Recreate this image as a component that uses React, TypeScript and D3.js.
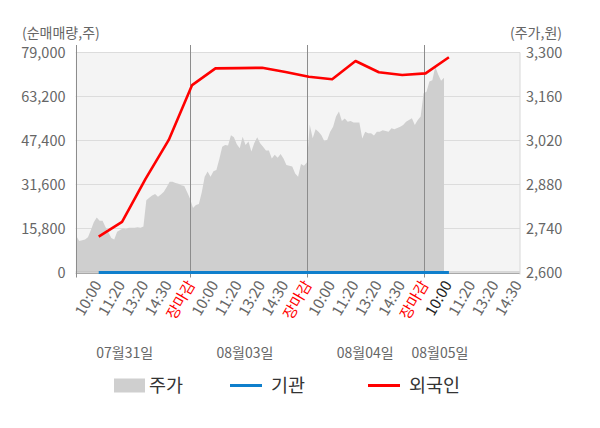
//@ts-nocheck
import * as d3 from "d3";
import { useEffect, useRef } from "react";

// 주가 (원), 8 samples per x slot, first sample at slot 1/8
const priceData = [
  2716, 2700, 2703, 2705, 2712, 2735, 2760, 2775, 2765, 2765, 2745, 2728, 2710, 2705, 2730, 2735, 2740, 2738, 2742, 2742,
  2742, 2744, 2742, 2746, 2830, 2838, 2845, 2850, 2841, 2848, 2857, 2872, 2889, 2889, 2885, 2882, 2878, 2875, 2855, 2835,
  2805, 2815, 2818, 2855, 2905, 2921, 2905, 2922, 2926, 2960, 3000, 3006, 3004, 3037, 3030, 3008, 2995, 3032, 3006, 3017,
  2985, 3012, 3030, 3011, 3000, 2988, 2988, 2963, 2975, 2965, 2977, 2963, 2942, 2940, 2937, 2915, 2905, 2945, 2940, 2950,
  3070, 3027, 3056, 3048, 3037, 3018, 3022, 3048, 3064, 3096, 3112, 3082, 3090, 3080, 3082, 3077, 3077, 3077, 3026, 3048,
  3043, 3043, 3036, 3048, 3048, 3053, 3050, 3048, 3059, 3056, 3060, 3064, 3069, 3080, 3085, 3091, 3069, 3085, 3096, 3170,
  3175, 3208, 3212, 3255, 3230, 3210, 3220
];
// 외국인 순매매량 (주), one per x slot starting at slot 1
const foreignData = [12900, 18200, 33500, 47600, 67300, 73300, 73400, 73500, 72000, 70300, 69400, 75950, 71900, 70900, 71500, 77300];
// 기관 순매매량 (주)
const institutionData = [0, 0, 0, 0, 0, 0, 0, 0, 0, 0, 0, 0, 0, 0, 0, 0];

const dayLabels = ["07월31일", "08월03일", "08월04일", "08월05일"];
const timeLabels = ["10:00", "11:20", "13:20", "14:30", "장마감"];
const leftTicks = [0, 15800, 31600, 47400, 63200, 79000];
const rightTicks = [2600, 2740, 2880, 3020, 3160, 3300];

const FONT = '"Noto Sans CJK KR", "Noto Sans", sans-serif';

const StockChart = () => {
  const chartRef = useRef(null);

  useEffect(() => {
    document.body.style.margin = "0";
    chartRef.current.innerHTML = "";
    drawChart(chartRef.current);
  }, []);

  return (
    <div>
      <svg ref={chartRef} width={600} height={428} style={{ display: "block" }}></svg>
    </div>
  );
};

const drawChart = (ref: any) => {
  const left = 75.7, right = 520, top = 52.5, bottom = 272.5;
  const svg = d3.select(ref).style("font-family", FONT);

  // x works in "slots": one slot between time labels, 5 slots per day
  const x = d3.scaleLinear().domain([0.1, 19.13]).range([left, right]);
  const yLeft = d3.scaleLinear().domain([0, 79000]).range([bottom, top]);
  const yRight = d3.scaleLinear().domain([2600, 3300]).range([bottom, top]);

  // background
  svg.append("rect")
    .attr("x", left).attr("y", top)
    .attr("width", right - left).attr("height", bottom - top)
    .attr("fill", "#f4f4f4");

  // grid lines
  svg.selectAll("grid")
    .data(leftTicks.slice(1))
    .enter()
    .append("line")
    .attr("x1", left).attr("x2", right)
    .attr("y1", d => yLeft(d)).attr("y2", d => yLeft(d))
    .attr("stroke", "#dcdcdc").attr("stroke-width", 1);

  // price area
  const area = d3.area()
    .x((d, i) => x((i + 1) / 8))
    .y0(bottom)
    .y1(d => yRight(d));
  svg.append("path")
    .datum(priceData)
    .attr("d", area)
    .attr("fill", "#cfcfcf");

  // bottom line
  svg.append("line")
    .attr("x1", left).attr("x2", right)
    .attr("y1", bottom + 1).attr("y2", bottom + 1)
    .attr("stroke", "#a8a8a8").attr("stroke-width", 1);
  svg.append("line")
    .attr("x1", left).attr("x2", right)
    .attr("y1", bottom - 0.5).attr("y2", bottom - 0.5)
    .attr("stroke", "#bbbbbb").attr("stroke-width", 1);

  // right border
  svg.append("line")
    .attr("x1", right).attr("x2", right)
    .attr("y1", top).attr("y2", bottom + 2)
    .attr("stroke", "#d8d8d8");

  // left axis line + day separators
  svg.selectAll("sep")
    .data([0.1, 5, 10, 15])
    .enter()
    .append("line")
    .attr("x1", d => Math.round(x(d)) + 0.5).attr("x2", d => Math.round(x(d)) + 0.5)
    .attr("y1", 45).attr("y2", bottom + 5)
    .attr("stroke", "#8c8c8c").attr("stroke-width", 1);

  // lines
  const lineGen = (scale) => d3.line()
    .x((d, i) => x(i + 1) + 2)
    .y(d => scale(d));

  svg.append("path")
    .datum(institutionData)
    .attr("d", lineGen(yLeft))
    .attr("fill", "none")
    .attr("stroke", "#0f7fcc")
    .attr("stroke-width", 3);

  svg.append("path")
    .datum(foreignData)
    .attr("d", lineGen(yLeft))
    .attr("fill", "none")
    .attr("stroke", "#ff0000")
    .attr("stroke-width", 2.6)
    .attr("stroke-linejoin", "round");

  // left ticks
  svg.selectAll("lt")
    .data(leftTicks)
    .enter()
    .append("text")
    .attr("x", 65.5)
    .attr("y", d => yLeft(d))
    .attr("dy", "0.35em")
    .attr("text-anchor", "end")
    .attr("fill", "#666")
    .style("font-size", "14.5px")
    .text(d => d3.format(",")(d));

  // right ticks
  svg.selectAll("rt")
    .data(rightTicks)
    .enter()
    .append("text")
    .attr("x", 526)
    .attr("y", d => yRight(d))
    .attr("dy", "0.35em")
    .attr("text-anchor", "start")
    .attr("fill", "#666")
    .style("font-size", "14.5px")
    .text(d => d3.format(",")(d));

  // axis titles
  svg.append("text")
    .attr("x", 22).attr("y", 33).attr("dy", "0.35em")
    .attr("fill", "#666").style("font-size", "14px")
    .text("(순매매량,주)");
  svg.append("text")
    .attr("x", 562).attr("y", 33).attr("dy", "0.35em")
    .attr("text-anchor", "end")
    .attr("fill", "#666").style("font-size", "14px")
    .text("(주가,원)");

  // time labels: 5 per day, last day without 장마감
  const timeTicks = [];
  dayLabels.forEach((day, d) => {
    timeLabels.forEach((t, j) => {
      if (d === 3 && j === 4) return;
      let color = "#666";
      if (j === 4) color = "#ff0000";
      if (d === 3 && j === 0) color = "#222";
      timeTicks.push({ u: d * 5 + j + 1, text: t, color });
    });
  });
  svg.selectAll("tt")
    .data(timeTicks)
    .enter()
    .append("text")
    .attr("transform", d => "translate(" + (x(d.u) + 1) + "," + 282 + ") rotate(-60)")
    .attr("text-anchor", "end")
    .attr("dy", "0.35em")
    .attr("fill", d => d.color)
    .style("font-size", "15px")
    .text(d => d.text);

  // day labels
  const dayPos = [2.2, 7.35, 12.5, 15.7];
  svg.selectAll("dl")
    .data(dayLabels)
    .enter()
    .append("text")
    .attr("x", (d, i) => x(dayPos[i]))
    .attr("y", 353.5)
    .attr("dy", "0.35em")
    .attr("text-anchor", "middle")
    .attr("fill", "#666")
    .style("font-size", "14px")
    .text(d => d);

  // legend
  const lg = svg.append("g").style("font-size", "18.5px").attr("fill", "#333");
  lg.append("rect").attr("x", 114).attr("y", 378.5).attr("width", 31).attr("height", 14).attr("fill", "#cfcfcf");
  lg.append("text").attr("x", 149).attr("y", 385.5).attr("dy", "0.35em").text("주가");
  lg.append("line").attr("x1", 230).attr("x2", 262).attr("y1", 385.5).attr("y2", 385.5)
    .attr("stroke", "#0f7fcc").attr("stroke-width", 3);
  lg.append("text").attr("x", 271).attr("y", 385.5).attr("dy", "0.35em").text("기관");
  lg.append("line").attr("x1", 368).attr("x2", 400).attr("y1", 385.5).attr("y2", 385.5)
    .attr("stroke", "#ff0000").attr("stroke-width", 3);
  lg.append("text").attr("x", 409).attr("y", 385.5).attr("dy", "0.35em").text("외국인");
};

export default function App() {
  return <StockChart />;
}
